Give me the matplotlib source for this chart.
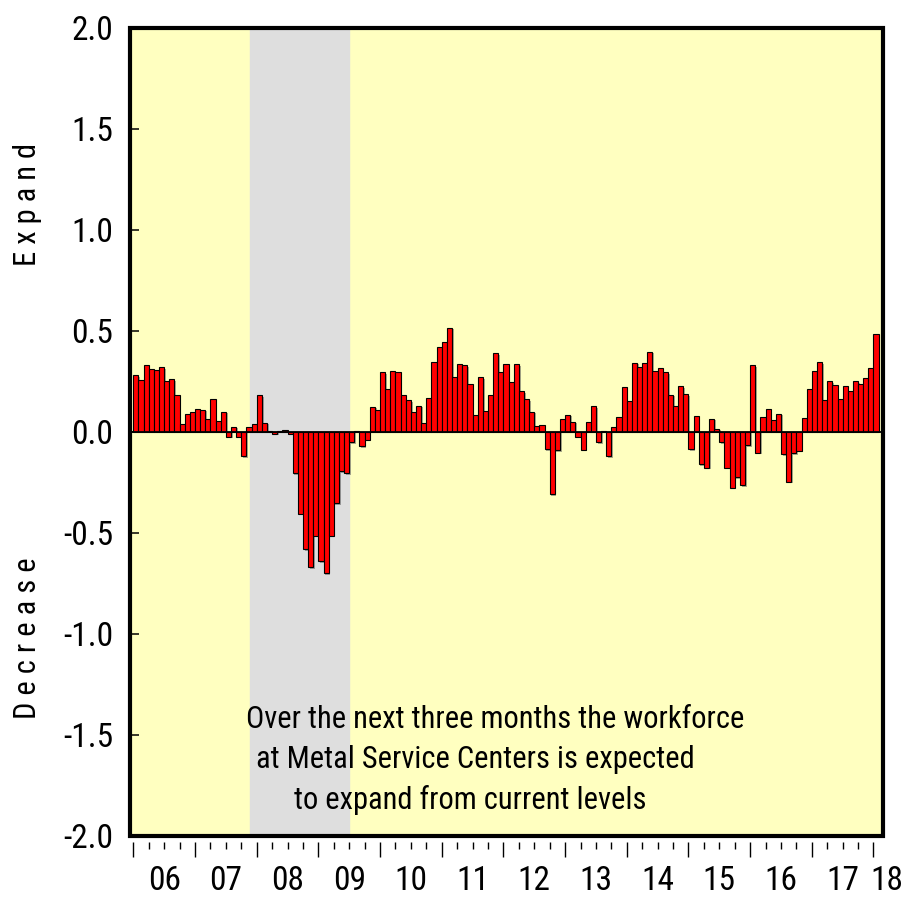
import matplotlib
matplotlib.use("Agg")
import matplotlib.pyplot as plt
import matplotlib.patheffects as pe
import matplotlib.transforms as mtransforms
from matplotlib.patches import Rectangle
import numpy as np

plt.rcParams['font.family'] = ['Roboto Condensed', 'Liberation Sans Narrow', 'DejaVu Sans']

# monthly values, Jan 2006 .. Jan 2018
vals_2006 = [0.28, 0.255, 0.33, 0.31, 0.305, 0.32, 0.25, 0.26, 0.18, 0.04, 0.09, 0.10]
vals_2007 = [0.115, 0.11, 0.065, 0.16, 0.055, 0.10, -0.025, 0.025, -0.025, -0.12, 0.025, 0.04]
vals_2008 = [0.18, 0.045, 0.005, -0.01, 0.005, 0.01, -0.01, -0.205, -0.405, -0.58, -0.67, -0.515]
vals_2009 = [-0.64, -0.70, -0.515, -0.355, -0.195, -0.205, -0.05, 0.005, -0.07, -0.04, 0.125, 0.11]
vals_2010 = [0.295, 0.21, 0.30, 0.295, 0.18, 0.155, 0.10, 0.13, 0.045, 0.165, 0.345, 0.42]
vals_2011 = [0.445, 0.515, 0.27, 0.335, 0.33, 0.235, 0.085, 0.27, 0.105, 0.18, 0.39, 0.295]
vals_2012 = [0.335, 0.245, 0.335, 0.20, 0.16, 0.10, 0.03, 0.033, -0.085, -0.31, -0.09, 0.063]
vals_2013 = [0.085, 0.05, -0.025, -0.088, 0.05, 0.127, -0.05, 0.005, -0.12, 0.026, 0.074, 0.22]
vals_2014 = [0.153, 0.343, 0.32, 0.343, 0.397, 0.303, 0.315, 0.295, 0.183, 0.13, 0.226, 0.186]
vals_2015 = [-0.085, 0.08, -0.162, -0.178, 0.065, 0.015, -0.05, -0.178, -0.277, -0.226, -0.266, -0.068]
vals_2016 = [0.33, -0.104, 0.071, 0.112, 0.056, 0.09, -0.112, -0.248, -0.107, -0.094, 0.066, 0.214]
vals_2017 = [0.30, 0.345, 0.155, 0.249, 0.231, 0.163, 0.226, 0.20, 0.25, 0.239, 0.267, 0.317]
vals_2018 = [0.482]

values = (vals_2006 + vals_2007 + vals_2008 + vals_2009 + vals_2010 + vals_2011 +
          vals_2012 + vals_2013 + vals_2014 + vals_2015 + vals_2016 + vals_2017 + vals_2018)

year_labels = ['06', '07', '08', '09', '10', '11', '12', '13', '14', '15', '16', '17', '18']
recession = (22.7, 42.0)  # months since Jan 2006
yticks = [2.0, 1.5, 1.0, 0.5, 0.0, -0.5, -1.0, -1.5, -2.0]
note_lines = ['Over the next three months the workforce',
              'at Metal Service Centers is expected',
              'to expand from current levels']

fig = plt.figure(figsize=(9.02, 8.99), dpi=100)
ax = fig.add_axes([130 / 902, 1 - 835.5 / 899, (883 - 130) / 902, (835.5 - 28) / 899])
ax.set_facecolor('#FFFFC0')

x = np.arange(len(values)) + 0.5
ax.axvspan(recession[0], recession[1], color='#DEDEDE', zorder=0)
bars = ax.bar(x, values, width=1.0, color='#FF0000', edgecolor='black', linewidth=0.8, zorder=2)
for b in bars:
    b.set_path_effects([pe.SimplePatchShadow(offset=(1.2, -1.2), shadow_rgbFace='#555555', alpha=0.5),
                        pe.Normal()])
ax.axhline(0, color='black', lw=1.3, zorder=3)

ax.set_xlim(-0.65, 145.85)
ax.set_ylim(-2.0, 2.0)

# y axis
ax.set_yticks(yticks)
ax.set_yticklabels(['%.1f' % v for v in yticks])
ax.tick_params(axis='y', direction='in', length=6.5, width=1.1, pad=12, labelsize=24, right=False)

# x axis: year ticks and quarter ticks, below the frame with a small gap
for s in ax.spines.values():
    s.set_visible(False)
ax.spines['bottom'].set_position(('outward', 5))
ax.set_xticks(np.arange(0, 145, 12))
ax.set_xticks([m for m in range(0, 146, 3) if m % 12 != 0], minor=True)
ax.tick_params(axis='x', which='major', direction='out', length=11, width=1.0, labelbottom=False)
ax.tick_params(axis='x', which='minor', direction='out', length=5, width=1.0)

trans = mtransforms.blended_transform_factory(ax.transData, ax.transAxes)
label_pos = [12 * k + 6 for k in range(12)] + [146.6]
for pos, lab in zip(label_pos, year_labels):
    ax.text(pos, -0.0565, lab, transform=trans, ha='center', va='center', fontsize=24, clip_on=False)

frame = Rectangle((0, 0), 1, 1, transform=ax.transAxes, fill=False, edgecolor='black',
                  lw=3, clip_on=False, zorder=10)
ax.add_patch(frame)

# side labels
fig.text(28 / 902, 1 - 204 / 899, 'E x p a n d', rotation=90, ha='center', va='center', fontsize=22)
fig.text(28 / 902, 1 - 638 / 899, 'D e c r e a s e', rotation=90, ha='center', va='center', fontsize=22)

# note
note_x = [495, 475, 470]
note_y = [720, 760, 800]
for lx, ly, line in zip(note_x, note_y, note_lines):
    fig.text(lx / 902, 1 - ly / 899, line, ha='center', va='center', fontsize=22)

fig.savefig('out.png', dpi=100)
